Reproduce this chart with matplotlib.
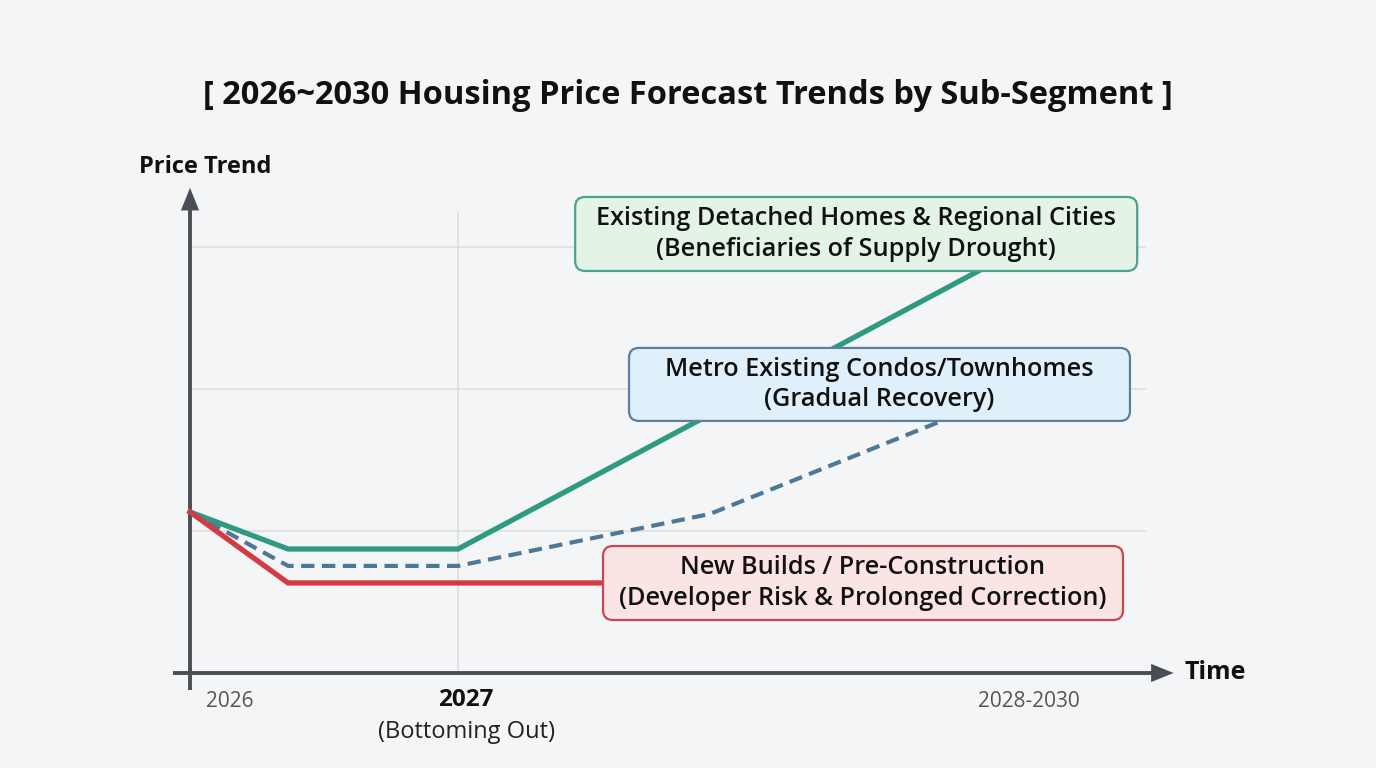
import numpy as np
import matplotlib.pyplot as plt
from matplotlib.patches import FancyBboxPatch

plt.rcParams['font.family'] = ['Open Sans', 'DejaVu Sans']

# time axis: 0 = 2026, 1 = 2027, ~3 = 2028-2030 ; price in relative units
green_x = [0, 0.366, 1.0, 3.02]
green_y = [1.134, 0.873, 0.873, 2.91]
blue_x = [0, 0.366, 1.0, 1.94, 2.89]
blue_y = [1.134, 0.754, 0.754, 1.12, 1.84]
red_x = [0, 0.366, 1.0, 1.549]
red_y = [1.134, 0.634, 0.634, 0.634]

tick_pos = [0.15, 1.03, 3.13]
tick_labels = ['2026', '2027', '2028-2030']
grid_y = [1, 2, 3]

bg = '#f4f5f7'
axis_col = '#4a4d53'

fig = plt.figure(figsize=(13.76, 7.68), dpi=100, facecolor=bg)
ax = fig.add_axes([0, 0, 1, 1])
ax.set_facecolor(bg)
ax.set_xlim(-0.709, 4.425)
ax.set_ylim(-0.669, 4.739)
ax.axis('off')

# grid
for gy in grid_y:
    ax.plot([0, 3.563], [gy, gy], color='#dadbdd', lw=1.1, zorder=1)
ax.plot([1, 1], [0, 3.246], color='#dadbdd', lw=1.1, zorder=1)

# axes with arrows
ax.plot([0, 0], [-0.12, 3.3], color=axis_col, lw=2.8, zorder=2, solid_capstyle='butt')
ax.plot([-0.065, 3.6], [0, 0], color=axis_col, lw=2.8, zorder=2, solid_capstyle='butt')
ax.annotate('', xy=(0, 3.435), xytext=(0, 3.25),
            arrowprops=dict(arrowstyle='-|>,head_length=1.6,head_width=0.65',
                            color=axis_col, lw=0.1), zorder=3)
ax.annotate('', xy=(3.68, 0), xytext=(3.55, 0),
            arrowprops=dict(arrowstyle='-|>,head_length=1.6,head_width=0.65',
                            color=axis_col, lw=0.1), zorder=3)

# series
ax.plot(green_x, green_y, color='#2e9a82', lw=3.8, zorder=4, solid_joinstyle='miter')
ax.plot(blue_x, blue_y, color='#4f7896', lw=3.0, ls=(0, (3.2, 1.8)), zorder=4)
ax.plot(red_x, red_y, color='#d23b44', lw=3.8, zorder=4, solid_joinstyle='miter')

# label boxes
asp = 268 / 142
boxes = [
    (1.437, 2.831, 2.097, 0.521, '#e3f3e6', '#4aa38a', 2.485, 3.092,
     'Existing Detached Homes & Regional Cities\n(Beneficiaries of Supply Drought)'),
    (1.638, 1.775, 1.869, 0.514, '#dff0fa', '#5b7f9c', 2.573, 2.032,
     'Metro Existing Condos/Townhomes\n(Gradual Recovery)'),
    (1.541, 0.373, 1.940, 0.521, '#fbe4e4', '#c9474e', 2.511, 0.634,
     'New Builds / Pre-Construction\n(Developer Risk & Prolonged Correction)'),
]
for bx, by, bw, bh, fc, ec, tx, ty, txt in boxes:
    ax.add_patch(FancyBboxPatch((bx, by), bw, bh,
                                boxstyle='round,pad=0,rounding_size=0.037',
                                mutation_aspect=asp, facecolor=fc, edgecolor=ec,
                                lw=1.6, zorder=6))
    ax.text(tx, ty, txt, ha='center', va='center', fontsize=18.2,
            fontweight='semibold', linespacing=1.28, color='#111111', zorder=7)

# tick labels
ax.text(tick_pos[0], -0.2, tick_labels[0], ha='center', va='center',
        fontsize=15, color='#555555')
ax.text(tick_pos[1], -0.19, tick_labels[1], ha='center', va='center',
        fontsize=17.5, fontweight='bold', color='#111111')
ax.text(tick_pos[1], -0.415, '(Bottoming Out)', ha='center', va='center',
        fontsize=17, color='#222222')
ax.text(tick_pos[2], -0.2, tick_labels[2], ha='center', va='center',
        fontsize=15, color='#555555')

# axis titles
ax.text(-0.19, 3.56, 'Price Trend', ha='left', va='center', fontsize=17,
        fontweight='bold', color='#111111')
ax.text(3.71, 0.005, 'Time', ha='left', va='center', fontsize=18,
        fontweight='bold', color='#111111')

# title
ax.text(1.858, 4.07, '[ 2026~2030 Housing Price Forecast Trends by Sub-Segment ]',
        ha='center', va='center', fontsize=23.5, fontweight='bold', color='#111111')

fig.savefig('out.png', dpi=100, facecolor=bg)
